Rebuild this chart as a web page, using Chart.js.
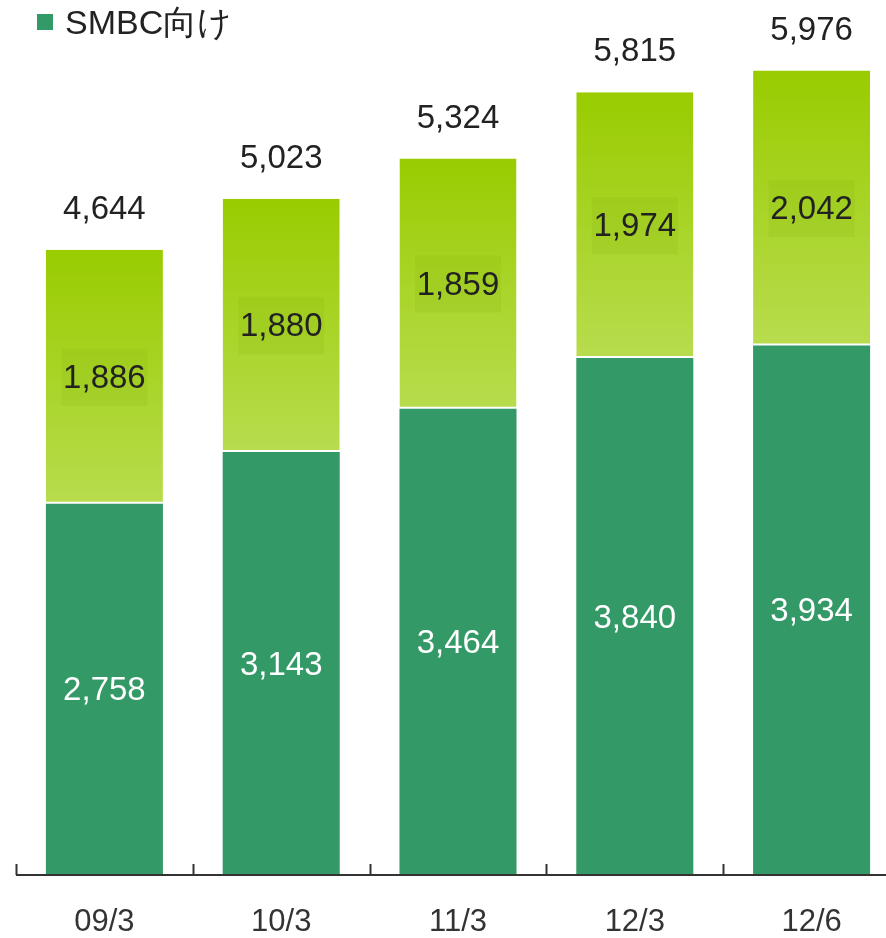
<!DOCTYPE html>
<html>
<head>
<meta charset="utf-8">
<script src="https://cdn.jsdelivr.net/npm/chart.js@4"></script>
<style>
    html, body { margin: 0; padding: 0; background: #fff; overflow: hidden; }
    #wrap { position: relative; width: 886px; height: 938px; overflow: hidden; }
    #legend {
        position: absolute; left: 37px; top: 0px;
        font-family: "Liberation Sans", Arial, sans-serif; font-size: 34px; color: #222;
    }
    #legend span.box {
        display: inline-block; width: 16px; height: 16px; background: #339966;
        margin-right: 12px; vertical-align: 4px;
    }
</style>
</head>
<body>
<div id="wrap">
    <canvas id="barChart" width="900" height="938" style="width:900px;height:938px;"></canvas>
    <div id="legend"><span class="box"></span>SMBC向け</div>
</div>
<script>
const categories = ["09/3", "10/3", "11/3", "12/3", "12/6"];
const smbcValues = [2758, 3143, 3464, 3840, 3934];
const otherValues = [1886, 1880, 1859, 1974, 2042];
const totals = [4644, 5023, 5324, 5815, 5976];

const FONT = '"Liberation Sans", Arial, sans-serif';

// gradient for the upper (light green) segment, one per bar
function lightGradient(context) {
    const chart = context.chart;
    const y = chart.scales.y;
    if (!chart.chartArea || !y) return "#a8d42a";
    const i = context.dataIndex;
    const top = y.getPixelForValue(smbcValues[i] + otherValues[i]);
    const bottom = y.getPixelForValue(smbcValues[i]);
    const g = chart.ctx.createLinearGradient(0, top, 0, bottom);
    g.addColorStop(0, "#99cc00");
    g.addColorStop(1, "#b8dc4e");
    return g;
}

const labelPlugin = {
    id: "barLabels",
    afterDatasetsDraw(chart) {
        const ctx = chart.ctx;
        const darkMeta = chart.getDatasetMeta(0);
        const lightMeta = chart.getDatasetMeta(1);
        ctx.save();
        ctx.font = "33px " + FONT;
        ctx.textAlign = "center";
        ctx.textBaseline = "middle";
        darkMeta.data.forEach((bar, i) => {
            const mid = (bar.y + bar.base) / 2;
            ctx.fillStyle = "#ffffff";
            ctx.fillText(smbcValues[i].toLocaleString("en-US"), bar.x, mid + 2);
        });
        lightMeta.data.forEach((bar, i) => {
            const mid = (bar.y + bar.base) / 2;
            ctx.fillStyle = "rgba(110,160,0,0.10)";
            ctx.fillRect(bar.x - 43, mid - 28, 86, 57);
            ctx.fillStyle = "#222222";
            ctx.fillText(otherValues[i].toLocaleString("en-US"), bar.x, mid + 2);
            ctx.fillText(totals[i].toLocaleString("en-US"), bar.x, bar.y - 40);
        });
        ctx.restore();
    }
};

const axisPlugin = {
    id: "bottomAxis",
    afterDraw(chart) {
        const ctx = chart.ctx;
        const x = chart.scales.x;
        const yPix = chart.chartArea.bottom;
        const step = x.getPixelForValue(1) - x.getPixelForValue(0);
        ctx.save();
        ctx.strokeStyle = "#333333";
        ctx.lineWidth = 2;
        ctx.beginPath();
        ctx.moveTo(chart.chartArea.left, yPix);
        ctx.lineTo(chart.width, yPix);
        ctx.stroke();
        ctx.beginPath();
        for (let i = 0; i < categories.length; i++) {
            const bx = Math.round(x.getPixelForValue(i) - step / 2) + 0.5;
            ctx.moveTo(bx, yPix);
            ctx.lineTo(bx, yPix - 11);
        }
        ctx.stroke();
        ctx.restore();
    }
};

new Chart(document.getElementById("barChart"), {
    type: "bar",
    data: {
        labels: categories,
        datasets: [
            {
                label: "SMBC向け",
                data: smbcValues,
                backgroundColor: "#339966",
                borderWidth: 0
            },
            {
                label: "その他",
                data: otherValues,
                backgroundColor: lightGradient,
                borderColor: "#ffffff",
                borderWidth: { top: 0, left: 0, right: 0, bottom: 2 },
                borderSkipped: false
            }
        ]
    },
    options: {
        responsive: false,
        animation: false,
        layout: { padding: { left: 16, top: 0, right: 0, bottom: 0 } },
        datasets: {
            bar: { barPercentage: 0.662, categoryPercentage: 1.0 }
        },
        plugins: {
            legend: { display: false },
            tooltip: { enabled: false }
        },
        scales: {
            x: {
                stacked: true,
                grid: { display: false, drawTicks: false },
                border: { display: false },
                ticks: {
                    color: "#333333",
                    font: { family: FONT, size: 31 },
                    padding: 29
                },
                afterFit(scale) { scale.height = 63; }
            },
            y: {
                stacked: true,
                display: false,
                min: 0,
                max: 6500
            }
        }
    },
    plugins: [labelPlugin, axisPlugin]
});
</script>
</body>
</html>
